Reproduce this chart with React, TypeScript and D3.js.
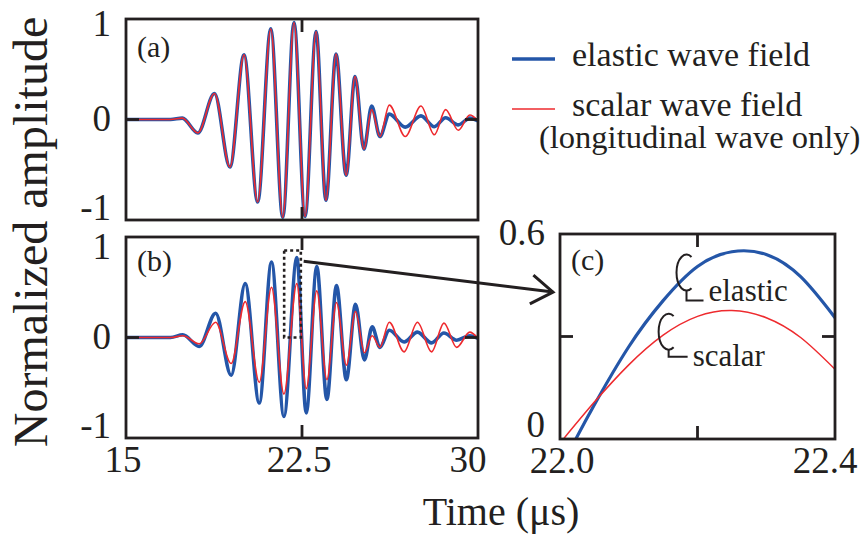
import React from "react";
import * as d3 from "d3";

// ---------- data ----------
// Panel (a): extrema times (µs) and amplitudes
const timesA = [15, 16.9, 17.4, 18.06, 18.77, 19.43, 20.03, 20.61, 21.17, 21.68, 22.16, 22.63, 23.1, 23.52, 23.95, 24.38, 24.76, 25.14, 25.47, 25.82, 26.22, 26.9, 27.57, 28.14, 28.62, 29.16, 29.65, 30];
const elasticA = [0, 0, 0.015, -0.15, 0.29, -0.53, 0.72, -0.92, 1.01, -1.09, 1.08, -1.08, 0.98, -0.9, 0.73, -0.62, 0.48, -0.33, 0.15, -0.19, 0.06, -0.085, 0.04, -0.08, 0.02, -0.06, 0.015, -0.015];
const scalarA = [0, 0, 0.015, -0.15, 0.29, -0.53, 0.72, -0.92, 1.01, -1.09, 1.08, -1.08, 0.98, -0.9, 0.73, -0.62, 0.48, -0.33, 0.11, -0.19, 0.16, -0.19, 0.15, -0.17, 0.11, -0.12, 0.05, -0.015];

// Panel (b)
const timesB = [15, 16.9, 17.42, 18.12, 18.82, 19.48, 20.08, 20.68, 21.2, 21.73, 22.28, 22.68, 23.13, 23.56, 23.97, 24.39, 24.78, 25.16, 25.49, 25.82, 26.22, 26.85, 27.42, 28.02, 28.55, 29.09, 29.65, 30];
const elasticB = [0, 0, 0.03, -0.1, 0.27, -0.42, 0.6, -0.73, 0.84, -0.88, 0.89, -0.84, 0.79, -0.69, 0.58, -0.47, 0.37, -0.25, 0.12, -0.11, 0.08, -0.05, 0.06, -0.06, 0.05, -0.03, 0.02, -0.01];
const scalarB = [0, 0, 0.02, -0.07, 0.17, -0.29, 0.4, -0.5, 0.56, -0.63, 0.6, -0.57, 0.52, -0.47, 0.39, -0.31, 0.29, -0.17, 0.02, -0.11, 0.17, -0.16, 0.17, -0.16, 0.16, -0.11, 0.06, -0.01];

// Panel (c): zoom 22.0 – 22.4 µs
const timesCElastic = [22.023, 22.05, 22.1, 22.15, 22.2, 22.25, 22.3, 22.35, 22.4];
const valuesCElastic = [0, 0.1, 0.27, 0.405, 0.505, 0.548, 0.54, 0.475, 0.355];
const timesCScalar = [22.005, 22.05, 22.1, 22.15, 22.2, 22.25, 22.3, 22.35, 22.4];
const valuesCScalar = [0, 0.108, 0.217, 0.304, 0.359, 0.376, 0.355, 0.297, 0.204];

// tick labels
const xTicksAB = [15, 22.5, 30];
const xTickLabelsAB = ["15", "22.5", "30"];
const yTicksAB = [1, 0, -1];
const yTickLabelsAB = ["1", "0", "-1"];
const xTicksC = [22.0, 22.4];
const xTickLabelsC = ["22.0", "22.4"];
const yTicksC = [0.6, 0];
const yTickLabelsC = ["0.6", "0"];

const legendLabels = ["elastic wave field", "scalar wave field", "(longitudinal wave only)"];

// ---------- styling ----------
const BLUE = "#2456a8";
const RED = "#ee2a2e";
const INK = "#231f20";
const FONT = "'Liberation Serif', 'Times New Roman', serif";

export default function App() {
  const W = 867, H = 536;
  const xA = d3.scaleLinear().domain([15, 30]).range([126, 478]);
  const yA = d3.scaleLinear().domain([-1.12, 1.12]).range([220, 19]);
  const yB = d3.scaleLinear().domain([-1.12, 1.12]).range([438, 237]);
  const xC = d3.scaleLinear().domain([22.0, 22.4]).range([560, 835]);
  const yC = d3.scaleLinear().domain([0, 0.6]).range([439, 234]);

  const lineFor = (y: any) =>
    d3.line<[number, number]>().x((d) => xA(d[0])).y((d) => y(d[1])).curve(d3.curveMonotoneX);
  const lineC = d3.line<[number, number]>().x((d) => xC(d[0])).y((d) => yC(d[1])).curve(d3.curveNatural);

  const zip = (t: number[], v: number[]) => t.map((tt, i) => [tt, v[i]] as [number, number]);

  const TL = 13; // inward tick length

  const frame = (x: any, y: any) => {
    const [x0, x1] = x.range();
    const [y0, y1] = y.range();
    return { x: Math.min(x0, x1), y: Math.min(y0, y1), w: Math.abs(x1 - x0), h: Math.abs(y1 - y0) };
  };
  const fA = frame(xA, yA);
  const fB = frame(xA, yB);
  const fC = frame(xC, yC);

  const yTicks = (y: any, label: string) =>
    yTicksAB.map((v, i) => (
      <text key={i} x={111} y={y(v) + (label === "(a)" && v > 0 ? 6 : 11)} textAnchor="end" fontSize={37} fontFamily={FONT} fill={INK}>
        {yTickLabelsAB[i]}
      </text>
    ));

  const panelAB = (y: any, f: any, elastic: number[], scalar: number[], times: number[], id: string, label: string, labelDy: number) => {
    const ln = lineFor(y);
    return (
      <g>
        <defs>
          <clipPath id={id}>
            <rect x={f.x} y={f.y} width={f.w} height={f.h} />
          </clipPath>
        </defs>
        <g clipPath={`url(#${id})`}>
          <path d={ln(zip(times, elastic)) || ""} fill="none" stroke={BLUE} strokeWidth={3.6} />
          <path d={ln(zip(times, scalar)) || ""} fill="none" stroke={RED} strokeWidth={1.6} />
        </g>
        <rect x={f.x} y={f.y} width={f.w} height={f.h} fill="none" stroke={INK} strokeWidth={2.8} />
        <line x1={xA(22.5)} x2={xA(22.5)} y1={f.y} y2={f.y + TL} stroke={INK} strokeWidth={2.8} />
        <line x1={xA(22.5)} x2={xA(22.5)} y1={f.y + f.h} y2={f.y + f.h - TL} stroke={INK} strokeWidth={2.8} />
        <line x1={f.x} x2={f.x + TL} y1={y(0)} y2={y(0)} stroke={INK} strokeWidth={2.8} />
        <line x1={f.x + f.w} x2={f.x + f.w - TL} y1={y(0)} y2={y(0)} stroke={INK} strokeWidth={2.8} />
        {yTicks(y, label)}
        <text x={f.x + 11} y={f.y + labelDy} fontSize={30} fontFamily={FONT} fill={INK}>{label}</text>
      </g>
    );
  };

  // annotation "C" leaders for panel (c)
  const leader = (t: number, v: number, text: string, textDx: number, textDy: number, lineDy: number) => {
    const cx = xC(t), cy = yC(v);
    const rx = 10, ry = 18;
    const a = (60 * Math.PI) / 180;
    const xs = cx + rx * Math.cos(a);
    const d = `M${xs},${cy - ry * Math.sin(a)} A${rx},${ry} 0 1 0 ${xs},${cy + ry * Math.sin(a)}`;
    return (
      <g>
        <path d={d} fill="none" stroke={INK} strokeWidth={2} />
        <path d={`M${cx},${cy + ry} V${cy + lineDy} H${cx + textDx - 5}`} fill="none" stroke={INK} strokeWidth={2} />
        <text x={cx + textDx} y={cy + textDy} fontSize={31} fontFamily={FONT} fill={INK}>{text}</text>
      </g>
    );
  };

  // arrow from the dashed box in (b) to panel (c)
  const ax0 = xA(22.57), ay0 = yB(0.85);
  const ax1 = xC(22.0) - 7, ay1 = yC(0.43);
  const ang = Math.atan2(ay1 - ay0, ax1 - ax0);
  const hl = 26, ha = (34 * Math.PI) / 180;
  const arm = (s: number) => [ax1 - hl * Math.cos(ang + s * ha), ay1 - hl * Math.sin(ang + s * ha)];
  const [p1x, p1y] = arm(1);
  const [p2x, p2y] = arm(-1);

  return (
    <svg width={W} height={H} viewBox={`0 0 ${W} ${H}`} style={{ position: "absolute", left: 0, top: 0, background: "#fff" }}>
      <rect x={0} y={0} width={W} height={H} fill="#fff" />
      {panelAB(yA, fA, elasticA, scalarA, timesA, "clipA", "(a)", 38)}
      {panelAB(yB, fB, elasticB, scalarB, timesB, "clipB", "(b)", 34)}

      {xTicksAB.map((t, i) => (
        <text key={i} x={xA(t) + (i === xTicksAB.length - 1 ? -10 : -3)} y={472} textAnchor="middle" fontSize={37} fontFamily={FONT} fill={INK}>
          {xTickLabelsAB[i]}
        </text>
      ))}

      <rect x={xA(21.74)} y={yB(0.97)} width={xA(22.45) - xA(21.74)} height={yB(0) - yB(0.97)} fill="none" stroke={INK} strokeWidth={2.6} strokeDasharray="3,3" />

      <line x1={ax0} y1={ay0} x2={ax1} y2={ay1} stroke={INK} strokeWidth={3} />
      <polyline points={`${p1x},${p1y} ${ax1},${ay1} ${p2x},${p2y}`} fill="none" stroke={INK} strokeWidth={3} />

      <defs>
        <clipPath id="clipC">
          <rect x={fC.x} y={fC.y} width={fC.w} height={fC.h} />
        </clipPath>
      </defs>
      <g clipPath="url(#clipC)">
        <path d={lineC(zip(timesCElastic, valuesCElastic)) || ""} fill="none" stroke={BLUE} strokeWidth={3.2} />
        <path d={lineC(zip(timesCScalar, valuesCScalar)) || ""} fill="none" stroke={RED} strokeWidth={1.5} />
      </g>
      <rect x={fC.x} y={fC.y} width={fC.w} height={fC.h} fill="none" stroke={INK} strokeWidth={2.8} />
      <line x1={xC(22.2)} x2={xC(22.2)} y1={fC.y} y2={fC.y + TL} stroke={INK} strokeWidth={2.8} />
      <line x1={xC(22.2)} x2={xC(22.2)} y1={fC.y + fC.h} y2={fC.y + fC.h - TL} stroke={INK} strokeWidth={2.8} />
      <line x1={fC.x} x2={fC.x + TL} y1={yC(0.3)} y2={yC(0.3)} stroke={INK} strokeWidth={2.8} />
      <line x1={fC.x + fC.w} x2={fC.x + fC.w - TL} y1={yC(0.3)} y2={yC(0.3)} stroke={INK} strokeWidth={2.8} />
      <text x={fC.x + 11} y={fC.y + 36} fontSize={30} fontFamily={FONT} fill={INK}>(c)</text>
      {yTicksC.map((v, i) => (
        <text key={i} x={545} y={yC(v) + (v > 0 ? 11 : -2)} textAnchor="end" fontSize={37} fontFamily={FONT} fill={INK}>
          {yTickLabelsC[i]}
        </text>
      ))}
      {xTicksC.map((t, i) => (
        <text key={i} x={xC(t) + (i === xTicksC.length - 1 ? -10 : 2)} y={473} textAnchor="middle" fontSize={37} fontFamily={FONT} fill={INK}>
          {xTickLabelsC[i]}
        </text>
      ))}
      {leader(22.184, 0.487, "elastic", 22, 28, 28)}
      {leader(22.158, 0.314, "scalar", 24, 34, 25)}

      <line x1={512} x2={555} y1={59} y2={59} stroke={BLUE} strokeWidth={3.5} />
      <text x={572} y={66} fontSize={34} fontFamily={FONT} fill={INK}>{legendLabels[0]}</text>
      <line x1={512} x2={555} y1={109} y2={109} stroke={RED} strokeWidth={1.6} />
      <text x={572} y={116} fontSize={34} fontFamily={FONT} fill={INK}>{legendLabels[1]}</text>
      <text x={539} y={148} fontSize={32.5} fontFamily={FONT} fill={INK}>{legendLabels[2]}</text>

      <text x={501} y={525} textAnchor="middle" fontSize={40} fontFamily={FONT} fill={INK}>Time (μs)</text>
      <text transform="translate(47,232) rotate(-90)" textAnchor="middle" fontSize={48} fontFamily={FONT} fill={INK}>Normalized amplitude</text>
    </svg>
  );
}
